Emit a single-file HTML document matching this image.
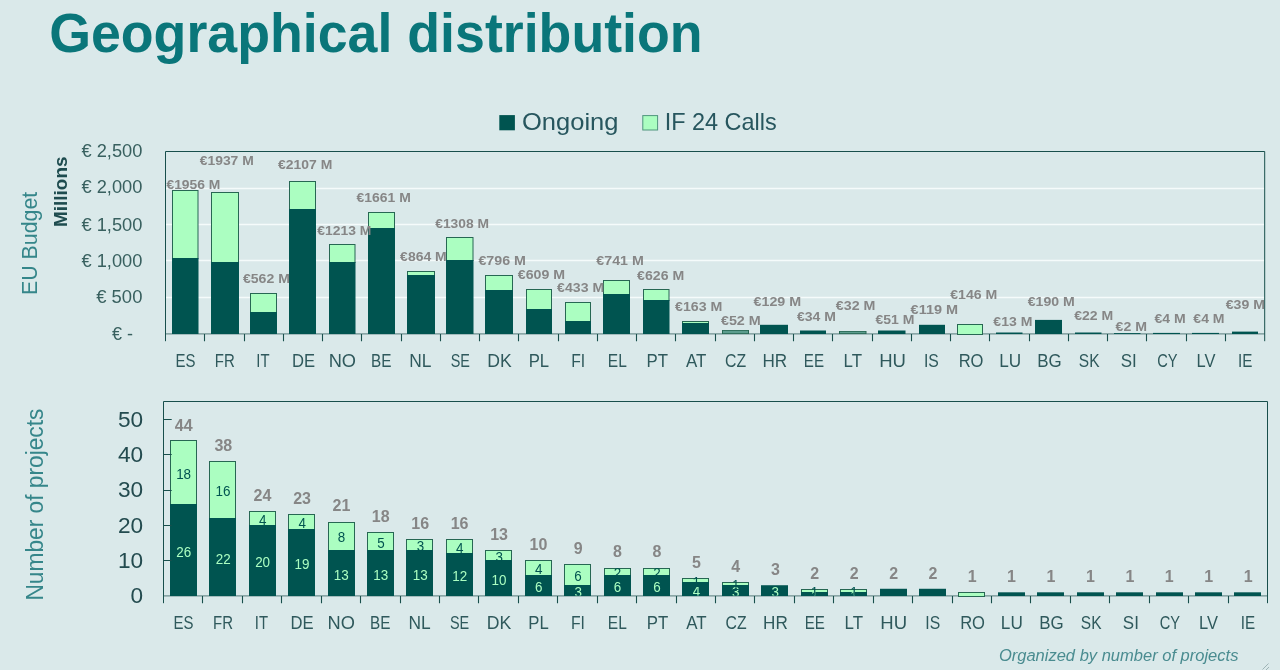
<!DOCTYPE html>
<html lang="en"><head><meta charset="utf-8"><title>Geographical distribution</title>
<style>
html,body{margin:0;padding:0;background:#dae9ea;}
body{width:1280px;height:670px;overflow:hidden;font-family:"Liberation Sans", sans-serif;}
svg{display:block;font-family:"Liberation Sans", sans-serif;}
</style></head><body>
<svg width="1280" height="670" viewBox="0 0 1280 670">
<rect x="0" y="0" width="1280" height="670" fill="#dae9ea"/>
<text x="49.15" y="52.30" font-size="55.5" fill="#0a767a" font-weight="bold" textLength="653.49" lengthAdjust="spacingAndGlyphs">Geographical distribution</text>
<rect x="499.3" y="115.1" width="15.6" height="15.2" fill="#005450"/>
<text x="521.99" y="130.00" font-size="23.6" fill="#27565e" textLength="96.43" lengthAdjust="spacingAndGlyphs">Ongoing</text>
<rect x="642.8" y="115.6" width="14.8" height="14.4" fill="#abfec1" stroke="#4f957d" stroke-width="1"/>
<text x="664.63" y="130.00" font-size="23.6" fill="#27565e" textLength="112.08" lengthAdjust="spacingAndGlyphs">IF 24 Calls</text>
<line x1="165.5" y1="188.50" x2="1264.7" y2="188.50" stroke="#f5fbfb" stroke-width="1.3"/>
<line x1="165.5" y1="224.50" x2="1264.7" y2="224.50" stroke="#f5fbfb" stroke-width="1.3"/>
<line x1="165.5" y1="260.50" x2="1264.7" y2="260.50" stroke="#f5fbfb" stroke-width="1.3"/>
<line x1="165.5" y1="297.50" x2="1264.7" y2="297.50" stroke="#f5fbfb" stroke-width="1.3"/>
<line x1="165.5" y1="333.9" x2="1264.7" y2="333.9" stroke="#6f9090" stroke-width="1.1"/>
<rect x="172.5" y="190.5" width="25.50" height="68" fill="#abfec1" stroke="#276753" stroke-width="1"/>
<rect x="172" y="258.00" width="26.5" height="76.00" fill="#005450"/>
<rect x="211.5" y="192.5" width="27.00" height="70" fill="#abfec1" stroke="#276753" stroke-width="1"/>
<rect x="211" y="262.00" width="28.0" height="72.00" fill="#005450"/>
<rect x="250.5" y="293.5" width="26.00" height="19" fill="#abfec1" stroke="#276753" stroke-width="1"/>
<rect x="250" y="312.00" width="27.0" height="22.00" fill="#005450"/>
<rect x="289.5" y="181.5" width="26.00" height="28" fill="#abfec1" stroke="#276753" stroke-width="1"/>
<rect x="289" y="209.00" width="27.0" height="125.00" fill="#005450"/>
<rect x="329.5" y="244.5" width="25.50" height="18" fill="#abfec1" stroke="#276753" stroke-width="1"/>
<rect x="329" y="262.00" width="26.5" height="72.00" fill="#005450"/>
<rect x="368.5" y="212.5" width="26.00" height="16" fill="#abfec1" stroke="#276753" stroke-width="1"/>
<rect x="368" y="228.00" width="27.0" height="106.00" fill="#005450"/>
<rect x="407.5" y="271.5" width="27.00" height="4" fill="#abfec1" stroke="#276753" stroke-width="1"/>
<rect x="407" y="275.00" width="28.0" height="59.00" fill="#005450"/>
<rect x="446.5" y="237.5" width="26.50" height="23" fill="#abfec1" stroke="#276753" stroke-width="1"/>
<rect x="446" y="260.00" width="27.5" height="74.00" fill="#005450"/>
<rect x="485.5" y="275.5" width="27.00" height="15" fill="#abfec1" stroke="#276753" stroke-width="1"/>
<rect x="485" y="290.00" width="28.0" height="44.00" fill="#005450"/>
<rect x="526.5" y="289.5" width="25.00" height="20" fill="#abfec1" stroke="#276753" stroke-width="1"/>
<rect x="526" y="309.00" width="26.0" height="25.00" fill="#005450"/>
<rect x="565.5" y="302.5" width="25.00" height="19" fill="#abfec1" stroke="#276753" stroke-width="1"/>
<rect x="565" y="321.00" width="26.0" height="13.00" fill="#005450"/>
<rect x="603.5" y="280.5" width="26.00" height="14" fill="#abfec1" stroke="#276753" stroke-width="1"/>
<rect x="603" y="294.00" width="27.0" height="40.00" fill="#005450"/>
<rect x="643.5" y="289.5" width="25.50" height="11" fill="#abfec1" stroke="#276753" stroke-width="1"/>
<rect x="643" y="300.00" width="26.5" height="34.00" fill="#005450"/>
<rect x="682.5" y="321.5" width="26.00" height="2" fill="#abfec1" stroke="#276753" stroke-width="1"/>
<rect x="682" y="323.00" width="27.0" height="11.00" fill="#005450"/>
<rect x="722" y="330.0" width="27.0" height="4.00" fill="#276753"/>
<rect x="723" y="330.8" width="25.0" height="2.40" fill="#5c9d8e"/>
<rect x="760" y="324.80" width="28.0" height="9.20" fill="#005450"/>
<rect x="800" y="330.50" width="26.0" height="3.50" fill="#005450"/>
<rect x="839" y="331.0" width="27.5" height="3.00" fill="#276753"/>
<rect x="840" y="331.8" width="25.5" height="1.40" fill="#5c9d8e"/>
<rect x="878" y="330.50" width="27.5" height="3.50" fill="#005450"/>
<rect x="919" y="324.80" width="26.0" height="9.20" fill="#005450"/>
<rect x="957.5" y="324.5" width="25.00" height="10" fill="#abfec1" stroke="#276753" stroke-width="1"/>
<rect x="996" y="332.50" width="26.5" height="1.50" fill="#005450"/>
<rect x="1035" y="319.90" width="27.0" height="14.10" fill="#005450"/>
<rect x="1075" y="332.50" width="26.5" height="1.50" fill="#005450"/>
<rect x="1114" y="333.10" width="26.5" height="0.90" fill="#005450"/>
<rect x="1153" y="332.90" width="27.0" height="1.10" fill="#005450"/>
<rect x="1192" y="332.90" width="27.0" height="1.10" fill="#005450"/>
<rect x="1232" y="331.60" width="26.0" height="2.40" fill="#005450"/>
<path d="M165.5,341.2 V151.5 H1264.7 V341.2" fill="none" stroke="#184f4c" stroke-width="1"/>
<path d="M204.5,333.9 v7.3M244.5,333.9 v7.3M283.5,333.9 v7.3M322.5,333.9 v7.3M361.5,333.9 v7.3M401.5,333.9 v7.3M440.5,333.9 v7.3M479.5,333.9 v7.3M518.5,333.9 v7.3M558.5,333.9 v7.3M597.5,333.9 v7.3M636.5,333.9 v7.3M675.5,333.9 v7.3M715.5,333.9 v7.3M754.5,333.9 v7.3M793.5,333.9 v7.3M832.5,333.9 v7.3M872.5,333.9 v7.3M911.5,333.9 v7.3M950.5,333.9 v7.3M989.5,333.9 v7.3M1029.5,333.9 v7.3M1068.5,333.9 v7.3M1107.5,333.9 v7.3M1146.5,333.9 v7.3M1186.5,333.9 v7.3M1225.5,333.9 v7.3" fill="none" stroke="#184f4c" stroke-width="1.1"/>
<text x="175.47" y="366.70" font-size="18" fill="#2f595c" textLength="19.93" lengthAdjust="spacingAndGlyphs">ES</text>
<text x="214.87" y="366.70" font-size="18" fill="#2f595c" textLength="19.95" lengthAdjust="spacingAndGlyphs">FR</text>
<text x="256.32" y="366.70" font-size="18" fill="#2f595c" textLength="13.23" lengthAdjust="spacingAndGlyphs">IT</text>
<text x="291.93" y="366.70" font-size="18" fill="#2f595c" textLength="23.06" lengthAdjust="spacingAndGlyphs">DE</text>
<text x="328.69" y="366.70" font-size="18" fill="#2f595c" textLength="27.37" lengthAdjust="spacingAndGlyphs">NO</text>
<text x="371.04" y="366.70" font-size="18" fill="#2f595c" textLength="20.40" lengthAdjust="spacingAndGlyphs">BE</text>
<text x="409.27" y="366.70" font-size="18" fill="#2f595c" textLength="22.21" lengthAdjust="spacingAndGlyphs">NL</text>
<text x="450.65" y="366.70" font-size="18" fill="#2f595c" textLength="19.25" lengthAdjust="spacingAndGlyphs">SE</text>
<text x="487.25" y="366.70" font-size="18" fill="#2f595c" textLength="24.46" lengthAdjust="spacingAndGlyphs">DK</text>
<text x="528.72" y="366.70" font-size="18" fill="#2f595c" textLength="20.43" lengthAdjust="spacingAndGlyphs">PL</text>
<text x="571.20" y="366.70" font-size="18" fill="#2f595c" textLength="13.97" lengthAdjust="spacingAndGlyphs">FI</text>
<text x="607.82" y="366.70" font-size="18" fill="#2f595c" textLength="19.00" lengthAdjust="spacingAndGlyphs">EL</text>
<text x="646.61" y="366.70" font-size="18" fill="#2f595c" textLength="21.47" lengthAdjust="spacingAndGlyphs">PT</text>
<text x="686.06" y="366.70" font-size="18" fill="#2f595c" textLength="20.34" lengthAdjust="spacingAndGlyphs">AT</text>
<text x="725.01" y="366.70" font-size="18" fill="#2f595c" textLength="21.07" lengthAdjust="spacingAndGlyphs">CZ</text>
<text x="762.39" y="366.70" font-size="18" fill="#2f595c" textLength="24.71" lengthAdjust="spacingAndGlyphs">HR</text>
<text x="803.85" y="366.70" font-size="18" fill="#2f595c" textLength="20.18" lengthAdjust="spacingAndGlyphs">EE</text>
<text x="843.50" y="366.70" font-size="18" fill="#2f595c" textLength="18.48" lengthAdjust="spacingAndGlyphs">LT</text>
<text x="879.17" y="366.70" font-size="18" fill="#2f595c" textLength="26.75" lengthAdjust="spacingAndGlyphs">HU</text>
<text x="923.94" y="366.70" font-size="18" fill="#2f595c" textLength="14.91" lengthAdjust="spacingAndGlyphs">IS</text>
<text x="958.63" y="366.70" font-size="18" fill="#2f595c" textLength="24.85" lengthAdjust="spacingAndGlyphs">RO</text>
<text x="999.18" y="366.70" font-size="18" fill="#2f595c" textLength="21.96" lengthAdjust="spacingAndGlyphs">LU</text>
<text x="1037.30" y="366.70" font-size="18" fill="#2f595c" textLength="24.46" lengthAdjust="spacingAndGlyphs">BG</text>
<text x="1078.80" y="366.70" font-size="18" fill="#2f595c" textLength="20.68" lengthAdjust="spacingAndGlyphs">SK</text>
<text x="1120.64" y="366.70" font-size="18" fill="#2f595c" textLength="16.03" lengthAdjust="spacingAndGlyphs">SI</text>
<text x="1157.27" y="366.70" font-size="18" fill="#2f595c" textLength="20.35" lengthAdjust="spacingAndGlyphs">CY</text>
<text x="1196.54" y="366.70" font-size="18" fill="#2f595c" textLength="18.92" lengthAdjust="spacingAndGlyphs">LV</text>
<text x="1238.10" y="366.70" font-size="18" fill="#2f595c" textLength="14.35" lengthAdjust="spacingAndGlyphs">IE</text>
<text x="81.46" y="157.00" font-size="18" fill="#38605f" textLength="60.95" lengthAdjust="spacingAndGlyphs">€ 2,500</text>
<text x="81.46" y="193.10" font-size="18" fill="#38605f" textLength="60.95" lengthAdjust="spacingAndGlyphs">€ 2,000</text>
<text x="81.46" y="230.70" font-size="18" fill="#38605f" textLength="60.95" lengthAdjust="spacingAndGlyphs">€ 1,500</text>
<text x="81.46" y="266.70" font-size="18" fill="#38605f" textLength="60.95" lengthAdjust="spacingAndGlyphs">€ 1,000</text>
<text x="96.26" y="303.20" font-size="18" fill="#38605f" textLength="46.13" lengthAdjust="spacingAndGlyphs">€ 500</text>
<text x="112.06" y="340.10" font-size="18" fill="#38605f" textLength="21.04" lengthAdjust="spacingAndGlyphs">€ -</text>
<text x="166.43" y="188.60" font-size="13.4" fill="#868686" font-weight="bold" textLength="53.93" lengthAdjust="spacingAndGlyphs">€1956 M</text>
<text x="199.73" y="165.40" font-size="13.4" fill="#868686" font-weight="bold" textLength="54.03" lengthAdjust="spacingAndGlyphs">€1937 M</text>
<text x="242.93" y="283.30" font-size="13.4" fill="#868686" font-weight="bold" textLength="47.03" lengthAdjust="spacingAndGlyphs">€562 M</text>
<text x="278.03" y="169.40" font-size="13.4" fill="#868686" font-weight="bold" textLength="54.23" lengthAdjust="spacingAndGlyphs">€2107 M</text>
<text x="317.33" y="235.10" font-size="13.4" fill="#868686" font-weight="bold" textLength="54.13" lengthAdjust="spacingAndGlyphs">€1213 M</text>
<text x="356.53" y="202.30" font-size="13.4" fill="#868686" font-weight="bold" textLength="54.23" lengthAdjust="spacingAndGlyphs">€1661 M</text>
<text x="400.13" y="260.50" font-size="13.4" fill="#868686" font-weight="bold" textLength="46.52" lengthAdjust="spacingAndGlyphs">€864 M</text>
<text x="435.23" y="228.10" font-size="13.4" fill="#868686" font-weight="bold" textLength="53.83" lengthAdjust="spacingAndGlyphs">€1308 M</text>
<text x="478.43" y="265.40" font-size="13.4" fill="#868686" font-weight="bold" textLength="47.54" lengthAdjust="spacingAndGlyphs">€796 M</text>
<text x="517.83" y="278.90" font-size="13.4" fill="#868686" font-weight="bold" textLength="47.23" lengthAdjust="spacingAndGlyphs">€609 M</text>
<text x="557.13" y="291.70" font-size="13.4" fill="#868686" font-weight="bold" textLength="47.03" lengthAdjust="spacingAndGlyphs">€433 M</text>
<text x="596.33" y="265.40" font-size="13.4" fill="#868686" font-weight="bold" textLength="47.44" lengthAdjust="spacingAndGlyphs">€741 M</text>
<text x="637.13" y="279.90" font-size="13.4" fill="#868686" font-weight="bold" textLength="47.03" lengthAdjust="spacingAndGlyphs">€626 M</text>
<text x="675.03" y="311.30" font-size="13.4" fill="#868686" font-weight="bold" textLength="47.34" lengthAdjust="spacingAndGlyphs">€163 M</text>
<text x="720.93" y="325.10" font-size="13.4" fill="#868686" font-weight="bold" textLength="39.83" lengthAdjust="spacingAndGlyphs">€52 M</text>
<text x="753.53" y="305.60" font-size="13.4" fill="#868686" font-weight="bold" textLength="47.64" lengthAdjust="spacingAndGlyphs">€129 M</text>
<text x="797.03" y="321.30" font-size="13.4" fill="#868686" font-weight="bold" textLength="38.91" lengthAdjust="spacingAndGlyphs">€34 M</text>
<text x="835.83" y="310.30" font-size="13.4" fill="#868686" font-weight="bold" textLength="39.52" lengthAdjust="spacingAndGlyphs">€32 M</text>
<text x="875.53" y="324.30" font-size="13.4" fill="#868686" font-weight="bold" textLength="38.91" lengthAdjust="spacingAndGlyphs">€51 M</text>
<text x="910.63" y="314.30" font-size="13.4" fill="#868686" font-weight="bold" textLength="47.56" lengthAdjust="spacingAndGlyphs">€119 M</text>
<text x="950.23" y="298.50" font-size="13.4" fill="#868686" font-weight="bold" textLength="47.03" lengthAdjust="spacingAndGlyphs">€146 M</text>
<text x="993.33" y="326.30" font-size="13.4" fill="#868686" font-weight="bold" textLength="39.01" lengthAdjust="spacingAndGlyphs">€13 M</text>
<text x="1027.73" y="305.50" font-size="13.4" fill="#868686" font-weight="bold" textLength="47.03" lengthAdjust="spacingAndGlyphs">€190 M</text>
<text x="1074.23" y="320.30" font-size="13.4" fill="#868686" font-weight="bold" textLength="39.01" lengthAdjust="spacingAndGlyphs">€22 M</text>
<text x="1115.63" y="331.10" font-size="13.4" fill="#868686" font-weight="bold" textLength="31.44" lengthAdjust="spacingAndGlyphs">€2 M</text>
<text x="1154.53" y="323.30" font-size="13.4" fill="#868686" font-weight="bold" textLength="31.23" lengthAdjust="spacingAndGlyphs">€4 M</text>
<text x="1193.33" y="323.30" font-size="13.4" fill="#868686" font-weight="bold" textLength="31.23" lengthAdjust="spacingAndGlyphs">€4 M</text>
<text x="1225.73" y="308.50" font-size="13.4" fill="#868686" font-weight="bold" textLength="39.21" lengthAdjust="spacingAndGlyphs">€39 M</text>
<text transform="translate(37.00,293.20) rotate(-90)" x="-1.76" y="0" font-size="22.8" fill="#35868a" textLength="103.15" lengthAdjust="spacingAndGlyphs">EU Budget</text>
<text transform="translate(67.00,225.70) rotate(-90)" x="-1.28" y="0" font-size="18.6" fill="#1e4c4f" font-weight="bold" textLength="70.48" lengthAdjust="spacingAndGlyphs">Millions</text>
<defs><clipPath id="c2"><rect x="164" y="402" width="1103" height="193.6"/></clipPath></defs>
<line x1="163.5" y1="595.9" x2="1267.5" y2="595.9" stroke="#6f9090" stroke-width="1.1"/>
<rect x="170.5" y="440.5" width="26.00" height="64" fill="#abfec1" stroke="#276753" stroke-width="1"/>
<rect x="170" y="504.00" width="27.0" height="92.00" fill="#005450"/>
<g clip-path="url(#c2)">
<text x="176.30" y="556.70" font-size="14" fill="#abfec1" textLength="14.95" lengthAdjust="spacingAndGlyphs">26</text>
<text x="176.14" y="478.75" font-size="14" fill="#005450" textLength="14.95" lengthAdjust="spacingAndGlyphs">18</text>
</g>
<text x="174.85" y="430.70" font-size="16" fill="#868686" font-weight="bold" textLength="17.80" lengthAdjust="spacingAndGlyphs">44</text>
<rect x="209.5" y="461.5" width="26.00" height="57" fill="#abfec1" stroke="#276753" stroke-width="1"/>
<rect x="209" y="518.00" width="27.0" height="78.00" fill="#005450"/>
<g clip-path="url(#c2)">
<text x="215.78" y="563.78" font-size="14" fill="#abfec1" textLength="14.95" lengthAdjust="spacingAndGlyphs">22</text>
<text x="215.57" y="496.45" font-size="14" fill="#005450" textLength="14.95" lengthAdjust="spacingAndGlyphs">16</text>
</g>
<text x="214.42" y="451.00" font-size="16" fill="#868686" font-weight="bold" textLength="17.80" lengthAdjust="spacingAndGlyphs">38</text>
<rect x="249.5" y="511.5" width="26.00" height="14" fill="#abfec1" stroke="#276753" stroke-width="1"/>
<rect x="249" y="525.00" width="27.0" height="71.00" fill="#005450"/>
<g clip-path="url(#c2)">
<text x="255.13" y="567.33" font-size="14" fill="#abfec1" textLength="14.95" lengthAdjust="spacingAndGlyphs">20</text>
<text x="258.98" y="524.77" font-size="14" fill="#005450" textLength="7.47" lengthAdjust="spacingAndGlyphs">4</text>
</g>
<text x="253.55" y="501.10" font-size="16" fill="#868686" font-weight="bold" textLength="17.80" lengthAdjust="spacingAndGlyphs">24</text>
<rect x="288.5" y="514.5" width="26.00" height="15" fill="#abfec1" stroke="#276753" stroke-width="1"/>
<rect x="288" y="529.00" width="27.0" height="67.00" fill="#005450"/>
<g clip-path="url(#c2)">
<text x="294.44" y="569.10" font-size="14" fill="#abfec1" textLength="14.95" lengthAdjust="spacingAndGlyphs">19</text>
<text x="298.40" y="528.31" font-size="14" fill="#005450" textLength="7.47" lengthAdjust="spacingAndGlyphs">4</text>
</g>
<text x="293.22" y="504.10" font-size="16" fill="#868686" font-weight="bold" textLength="17.80" lengthAdjust="spacingAndGlyphs">23</text>
<rect x="328.5" y="522.5" width="26.00" height="28" fill="#abfec1" stroke="#276753" stroke-width="1"/>
<rect x="328" y="550.00" width="27.0" height="46.00" fill="#005450"/>
<g clip-path="url(#c2)">
<text x="333.85" y="579.71" font-size="14" fill="#abfec1" textLength="14.95" lengthAdjust="spacingAndGlyphs">13</text>
<text x="337.80" y="542.47" font-size="14" fill="#005450" textLength="7.47" lengthAdjust="spacingAndGlyphs">8</text>
</g>
<text x="332.59" y="511.00" font-size="16" fill="#868686" font-weight="bold" textLength="17.80" lengthAdjust="spacingAndGlyphs">21</text>
<rect x="367.5" y="532.5" width="26.00" height="18" fill="#abfec1" stroke="#276753" stroke-width="1"/>
<rect x="367" y="550.00" width="27.0" height="46.00" fill="#005450"/>
<g clip-path="url(#c2)">
<text x="373.28" y="579.71" font-size="14" fill="#abfec1" textLength="14.95" lengthAdjust="spacingAndGlyphs">13</text>
<text x="377.23" y="547.78" font-size="14" fill="#005450" textLength="7.47" lengthAdjust="spacingAndGlyphs">5</text>
</g>
<text x="371.82" y="521.80" font-size="16" fill="#868686" font-weight="bold" textLength="17.80" lengthAdjust="spacingAndGlyphs">18</text>
<rect x="406.5" y="539.5" width="26.00" height="11" fill="#abfec1" stroke="#276753" stroke-width="1"/>
<rect x="406" y="550.00" width="27.0" height="46.00" fill="#005450"/>
<g clip-path="url(#c2)">
<text x="412.71" y="579.71" font-size="14" fill="#abfec1" textLength="14.95" lengthAdjust="spacingAndGlyphs">13</text>
<text x="416.69" y="551.32" font-size="14" fill="#005450" textLength="7.47" lengthAdjust="spacingAndGlyphs">3</text>
</g>
<text x="411.29" y="528.50" font-size="16" fill="#868686" font-weight="bold" textLength="17.80" lengthAdjust="spacingAndGlyphs">16</text>
<rect x="446.5" y="539.5" width="26.00" height="14" fill="#abfec1" stroke="#276753" stroke-width="1"/>
<rect x="446" y="553.00" width="27.0" height="43.00" fill="#005450"/>
<g clip-path="url(#c2)">
<text x="452.19" y="581.48" font-size="14" fill="#abfec1" textLength="14.95" lengthAdjust="spacingAndGlyphs">12</text>
<text x="456.12" y="553.09" font-size="14" fill="#005450" textLength="7.47" lengthAdjust="spacingAndGlyphs">4</text>
</g>
<text x="450.71" y="528.50" font-size="16" fill="#868686" font-weight="bold" textLength="17.80" lengthAdjust="spacingAndGlyphs">16</text>
<rect x="485.5" y="550.5" width="26.00" height="10" fill="#abfec1" stroke="#276753" stroke-width="1"/>
<rect x="485" y="560.00" width="27.0" height="36.00" fill="#005450"/>
<g clip-path="url(#c2)">
<text x="491.53" y="585.02" font-size="14" fill="#abfec1" textLength="14.95" lengthAdjust="spacingAndGlyphs">10</text>
<text x="495.55" y="561.94" font-size="14" fill="#005450" textLength="7.47" lengthAdjust="spacingAndGlyphs">3</text>
</g>
<text x="490.14" y="539.60" font-size="16" fill="#868686" font-weight="bold" textLength="17.80" lengthAdjust="spacingAndGlyphs">13</text>
<rect x="525.5" y="560.5" width="26.00" height="15" fill="#abfec1" stroke="#276753" stroke-width="1"/>
<rect x="525" y="575.00" width="27.0" height="21.00" fill="#005450"/>
<g clip-path="url(#c2)">
<text x="534.89" y="592.11" font-size="14" fill="#abfec1" textLength="7.47" lengthAdjust="spacingAndGlyphs">6</text>
<text x="534.98" y="574.33" font-size="14" fill="#005450" textLength="7.47" lengthAdjust="spacingAndGlyphs">4</text>
</g>
<text x="529.61" y="550.30" font-size="16" fill="#868686" font-weight="bold" textLength="17.80" lengthAdjust="spacingAndGlyphs">10</text>
<rect x="564.5" y="564.5" width="26.00" height="21" fill="#abfec1" stroke="#276753" stroke-width="1"/>
<rect x="564" y="585.00" width="27.0" height="11.00" fill="#005450"/>
<g clip-path="url(#c2)">
<text x="574.40" y="597.41" font-size="14" fill="#abfec1" textLength="7.47" lengthAdjust="spacingAndGlyphs">3</text>
<text x="574.32" y="581.41" font-size="14" fill="#005450" textLength="7.47" lengthAdjust="spacingAndGlyphs">6</text>
</g>
<text x="573.66" y="554.10" font-size="16" fill="#868686" font-weight="bold" textLength="8.90" lengthAdjust="spacingAndGlyphs">9</text>
<rect x="604.5" y="568.5" width="26.00" height="7" fill="#abfec1" stroke="#276753" stroke-width="1"/>
<rect x="604" y="575.00" width="27.0" height="21.00" fill="#005450"/>
<g clip-path="url(#c2)">
<text x="613.75" y="592.11" font-size="14" fill="#abfec1" textLength="7.47" lengthAdjust="spacingAndGlyphs">6</text>
<text x="613.80" y="577.87" font-size="14" fill="#005450" textLength="7.47" lengthAdjust="spacingAndGlyphs">2</text>
</g>
<text x="613.07" y="556.60" font-size="16" fill="#868686" font-weight="bold" textLength="8.90" lengthAdjust="spacingAndGlyphs">8</text>
<rect x="643.5" y="568.5" width="26.00" height="7" fill="#abfec1" stroke="#276753" stroke-width="1"/>
<rect x="643" y="575.00" width="27.0" height="21.00" fill="#005450"/>
<g clip-path="url(#c2)">
<text x="653.18" y="592.11" font-size="14" fill="#abfec1" textLength="7.47" lengthAdjust="spacingAndGlyphs">6</text>
<text x="653.23" y="577.87" font-size="14" fill="#005450" textLength="7.47" lengthAdjust="spacingAndGlyphs">2</text>
</g>
<text x="652.50" y="556.60" font-size="16" fill="#868686" font-weight="bold" textLength="8.90" lengthAdjust="spacingAndGlyphs">8</text>
<rect x="682.5" y="578.5" width="26.00" height="4" fill="#abfec1" stroke="#276753" stroke-width="1"/>
<rect x="682" y="582.00" width="27.0" height="14.00" fill="#005450"/>
<g clip-path="url(#c2)">
<text x="692.69" y="595.64" font-size="14" fill="#abfec1" textLength="7.47" lengthAdjust="spacingAndGlyphs">4</text>
<text x="692.47" y="586.72" font-size="14" fill="#005450" textLength="7.47" lengthAdjust="spacingAndGlyphs">1</text>
</g>
<text x="691.93" y="567.90" font-size="16" fill="#868686" font-weight="bold" textLength="8.90" lengthAdjust="spacingAndGlyphs">5</text>
<rect x="722.5" y="582.5" width="26.00" height="3" fill="#abfec1" stroke="#276753" stroke-width="1"/>
<rect x="722" y="585.00" width="27.0" height="11.00" fill="#005450"/>
<g clip-path="url(#c2)">
<text x="732.12" y="597.41" font-size="14" fill="#abfec1" textLength="7.47" lengthAdjust="spacingAndGlyphs">3</text>
<text x="731.90" y="590.26" font-size="14" fill="#005450" textLength="7.47" lengthAdjust="spacingAndGlyphs">1</text>
</g>
<text x="731.29" y="571.90" font-size="16" fill="#868686" font-weight="bold" textLength="8.90" lengthAdjust="spacingAndGlyphs">4</text>
<rect x="761" y="585.23" width="27.0" height="10.77" fill="#005450"/>
<g clip-path="url(#c2)">
<text x="771.55" y="597.41" font-size="14" fill="#abfec1" textLength="7.47" lengthAdjust="spacingAndGlyphs">3</text>
</g>
<text x="770.90" y="574.70" font-size="16" fill="#868686" font-weight="bold" textLength="8.90" lengthAdjust="spacingAndGlyphs">3</text>
<rect x="801.5" y="589.5" width="26.00" height="3" fill="#abfec1" stroke="#276753" stroke-width="1"/>
<rect x="801" y="592.00" width="27.0" height="4.00" fill="#005450"/>
<g clip-path="url(#c2)">
<text x="810.76" y="600.95" font-size="14" fill="#abfec1" textLength="7.47" lengthAdjust="spacingAndGlyphs">1</text>
<text x="810.76" y="597.34" font-size="14" fill="#005450" textLength="7.47" lengthAdjust="spacingAndGlyphs">1</text>
</g>
<text x="810.27" y="578.70" font-size="16" fill="#868686" font-weight="bold" textLength="8.90" lengthAdjust="spacingAndGlyphs">2</text>
<rect x="840.5" y="589.5" width="26.00" height="3" fill="#abfec1" stroke="#276753" stroke-width="1"/>
<rect x="840" y="592.00" width="27.0" height="4.00" fill="#005450"/>
<g clip-path="url(#c2)">
<text x="850.19" y="600.95" font-size="14" fill="#abfec1" textLength="7.47" lengthAdjust="spacingAndGlyphs">1</text>
<text x="850.19" y="597.34" font-size="14" fill="#005450" textLength="7.47" lengthAdjust="spacingAndGlyphs">1</text>
</g>
<text x="849.70" y="578.70" font-size="16" fill="#868686" font-weight="bold" textLength="8.90" lengthAdjust="spacingAndGlyphs">2</text>
<rect x="880" y="588.77" width="27.0" height="7.23" fill="#005450"/>
<text x="889.13" y="578.70" font-size="16" fill="#868686" font-weight="bold" textLength="8.90" lengthAdjust="spacingAndGlyphs">2</text>
<rect x="919" y="588.77" width="27.0" height="7.23" fill="#005450"/>
<text x="928.56" y="578.70" font-size="16" fill="#868686" font-weight="bold" textLength="8.90" lengthAdjust="spacingAndGlyphs">2</text>
<rect x="958.5" y="592.5" width="26.00" height="4" fill="#abfec1" stroke="#276753" stroke-width="1"/>
<text x="967.67" y="581.70" font-size="16" fill="#868686" font-weight="bold" textLength="8.90" lengthAdjust="spacingAndGlyphs">1</text>
<rect x="998" y="592.31" width="27.0" height="3.69" fill="#005450"/>
<text x="1007.09" y="581.70" font-size="16" fill="#868686" font-weight="bold" textLength="8.90" lengthAdjust="spacingAndGlyphs">1</text>
<rect x="1037" y="592.31" width="27.0" height="3.69" fill="#005450"/>
<text x="1046.52" y="581.70" font-size="16" fill="#868686" font-weight="bold" textLength="8.90" lengthAdjust="spacingAndGlyphs">1</text>
<rect x="1077" y="592.31" width="27.0" height="3.69" fill="#005450"/>
<text x="1085.95" y="581.70" font-size="16" fill="#868686" font-weight="bold" textLength="8.90" lengthAdjust="spacingAndGlyphs">1</text>
<rect x="1116" y="592.31" width="27.0" height="3.69" fill="#005450"/>
<text x="1125.38" y="581.70" font-size="16" fill="#868686" font-weight="bold" textLength="8.90" lengthAdjust="spacingAndGlyphs">1</text>
<rect x="1156" y="592.31" width="27.0" height="3.69" fill="#005450"/>
<text x="1164.81" y="581.70" font-size="16" fill="#868686" font-weight="bold" textLength="8.90" lengthAdjust="spacingAndGlyphs">1</text>
<rect x="1195" y="592.31" width="27.0" height="3.69" fill="#005450"/>
<text x="1204.24" y="581.70" font-size="16" fill="#868686" font-weight="bold" textLength="8.90" lengthAdjust="spacingAndGlyphs">1</text>
<rect x="1234" y="592.31" width="27.0" height="3.69" fill="#005450"/>
<text x="1243.67" y="581.70" font-size="16" fill="#868686" font-weight="bold" textLength="8.90" lengthAdjust="spacingAndGlyphs">1</text>
<path d="M163.5,603.1999999999999 V401.5 H1267.5 V603.1999999999999" fill="none" stroke="#184f4c" stroke-width="1"/>
<path d="M202.5,595.9 v7.3M242.5,595.9 v7.3M281.5,595.9 v7.3M321.5,595.9 v7.3M360.5,595.9 v7.3M400.5,595.9 v7.3M439.5,595.9 v7.3M478.5,595.9 v7.3M518.5,595.9 v7.3M557.5,595.9 v7.3M597.5,595.9 v7.3M636.5,595.9 v7.3M676.5,595.9 v7.3M715.5,595.9 v7.3M754.5,595.9 v7.3M794.5,595.9 v7.3M833.5,595.9 v7.3M873.5,595.9 v7.3M912.5,595.9 v7.3M952.5,595.9 v7.3M991.5,595.9 v7.3M1030.5,595.9 v7.3M1070.5,595.9 v7.3M1109.5,595.9 v7.3M1149.5,595.9 v7.3M1188.5,595.9 v7.3M1228.5,595.9 v7.3M163.5,560.5 h8.2M163.5,525.5 h8.2M163.5,490.5 h8.2M163.5,454.5 h8.2M163.5,419.5 h8.2" fill="none" stroke="#184f4c" stroke-width="1.1"/>
<text x="173.55" y="628.70" font-size="18" fill="#2f595c" textLength="19.93" lengthAdjust="spacingAndGlyphs">ES</text>
<text x="213.12" y="628.70" font-size="18" fill="#2f595c" textLength="19.95" lengthAdjust="spacingAndGlyphs">FR</text>
<text x="254.75" y="628.70" font-size="18" fill="#2f595c" textLength="13.23" lengthAdjust="spacingAndGlyphs">IT</text>
<text x="290.53" y="628.70" font-size="18" fill="#2f595c" textLength="23.06" lengthAdjust="spacingAndGlyphs">DE</text>
<text x="327.47" y="628.70" font-size="18" fill="#2f595c" textLength="27.37" lengthAdjust="spacingAndGlyphs">NO</text>
<text x="369.98" y="628.70" font-size="18" fill="#2f595c" textLength="20.40" lengthAdjust="spacingAndGlyphs">BE</text>
<text x="408.38" y="628.70" font-size="18" fill="#2f595c" textLength="22.21" lengthAdjust="spacingAndGlyphs">NL</text>
<text x="449.94" y="628.70" font-size="18" fill="#2f595c" textLength="19.25" lengthAdjust="spacingAndGlyphs">SE</text>
<text x="486.70" y="628.70" font-size="18" fill="#2f595c" textLength="24.46" lengthAdjust="spacingAndGlyphs">DK</text>
<text x="528.35" y="628.70" font-size="18" fill="#2f595c" textLength="20.43" lengthAdjust="spacingAndGlyphs">PL</text>
<text x="571.00" y="628.70" font-size="18" fill="#2f595c" textLength="13.97" lengthAdjust="spacingAndGlyphs">FI</text>
<text x="607.79" y="628.70" font-size="18" fill="#2f595c" textLength="19.00" lengthAdjust="spacingAndGlyphs">EL</text>
<text x="646.76" y="628.70" font-size="18" fill="#2f595c" textLength="21.47" lengthAdjust="spacingAndGlyphs">PT</text>
<text x="686.37" y="628.70" font-size="18" fill="#2f595c" textLength="20.34" lengthAdjust="spacingAndGlyphs">AT</text>
<text x="725.50" y="628.70" font-size="18" fill="#2f595c" textLength="21.07" lengthAdjust="spacingAndGlyphs">CZ</text>
<text x="763.05" y="628.70" font-size="18" fill="#2f595c" textLength="24.71" lengthAdjust="spacingAndGlyphs">HR</text>
<text x="804.68" y="628.70" font-size="18" fill="#2f595c" textLength="20.18" lengthAdjust="spacingAndGlyphs">EE</text>
<text x="844.50" y="628.70" font-size="18" fill="#2f595c" textLength="18.48" lengthAdjust="spacingAndGlyphs">LT</text>
<text x="880.34" y="628.70" font-size="18" fill="#2f595c" textLength="26.75" lengthAdjust="spacingAndGlyphs">HU</text>
<text x="925.28" y="628.70" font-size="18" fill="#2f595c" textLength="14.91" lengthAdjust="spacingAndGlyphs">IS</text>
<text x="960.15" y="628.70" font-size="18" fill="#2f595c" textLength="24.85" lengthAdjust="spacingAndGlyphs">RO</text>
<text x="1000.87" y="628.70" font-size="18" fill="#2f595c" textLength="21.96" lengthAdjust="spacingAndGlyphs">LU</text>
<text x="1039.16" y="628.70" font-size="18" fill="#2f595c" textLength="24.46" lengthAdjust="spacingAndGlyphs">BG</text>
<text x="1080.83" y="628.70" font-size="18" fill="#2f595c" textLength="20.68" lengthAdjust="spacingAndGlyphs">SK</text>
<text x="1122.84" y="628.70" font-size="18" fill="#2f595c" textLength="16.03" lengthAdjust="spacingAndGlyphs">SI</text>
<text x="1159.64" y="628.70" font-size="18" fill="#2f595c" textLength="20.35" lengthAdjust="spacingAndGlyphs">CY</text>
<text x="1199.08" y="628.70" font-size="18" fill="#2f595c" textLength="18.92" lengthAdjust="spacingAndGlyphs">LV</text>
<text x="1240.81" y="628.70" font-size="18" fill="#2f595c" textLength="14.35" lengthAdjust="spacingAndGlyphs">IE</text>
<text x="130.47" y="602.90" font-size="22" fill="#234b4f" textLength="12.60" lengthAdjust="spacingAndGlyphs">0</text>
<text x="117.90" y="567.70" font-size="22" fill="#234b4f" textLength="25.21" lengthAdjust="spacingAndGlyphs">10</text>
<text x="117.90" y="532.60" font-size="22" fill="#234b4f" textLength="25.21" lengthAdjust="spacingAndGlyphs">20</text>
<text x="117.90" y="497.20" font-size="22" fill="#234b4f" textLength="25.21" lengthAdjust="spacingAndGlyphs">30</text>
<text x="117.90" y="461.80" font-size="22" fill="#234b4f" textLength="25.21" lengthAdjust="spacingAndGlyphs">40</text>
<text x="117.90" y="426.50" font-size="22" fill="#234b4f" textLength="25.21" lengthAdjust="spacingAndGlyphs">50</text>
<text transform="translate(42.70,598.70) rotate(-90)" x="-1.87" y="0" font-size="23.0" fill="#35868a" textLength="191.98" lengthAdjust="spacingAndGlyphs">Number of projects</text>
<text x="998.89" y="661.00" font-size="17.1" fill="#4a8c90" font-style="italic" textLength="239.54" lengthAdjust="spacingAndGlyphs">Organized by number of projects</text>
<path d="M1262.5,669.5 L1268.5,663.5 M1266,670 L1269,667" stroke="#9db4b6" stroke-width="1" fill="none"/>
</svg>
</body></html>
